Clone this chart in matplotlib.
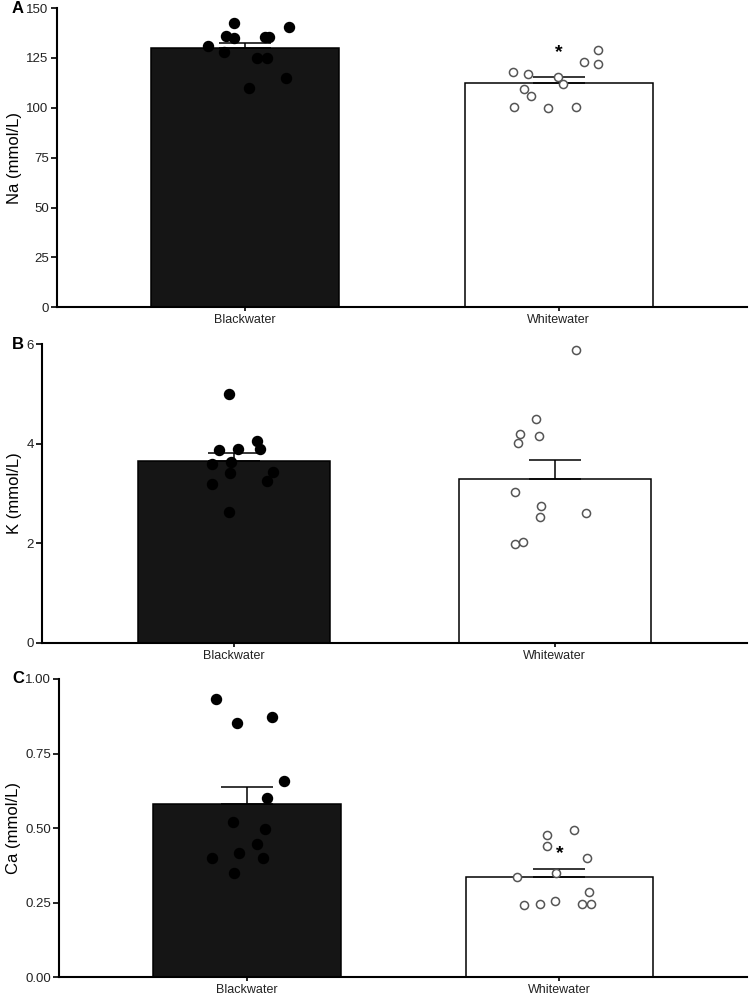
import matplotlib
matplotlib.use("Agg")
import matplotlib.pyplot as plt
import numpy as np

plt.rcParams['font.family'] = ['Liberation Sans', 'DejaVu Sans']

groups = ["Blackwater", "Whitewater"]

# panel A - Na
na_means = [130.1, 112.6]
na_sem = [2.5, 2.8]
na_black = [131.1, 127.8, 142.3, 136.0, 134.8, 109.7, 124.8, 135.6, 135.6, 124.8, 114.9, 140.3]
na_black_x = [-0.118, -0.067, -0.035, -0.061, -0.035, 0.013, 0.038, 0.064, 0.077, 0.070, 0.131, 0.141]
na_white = [117.9, 117.1, 115.4, 111.7, 109.2, 105.7, 100.3, 99.7, 100.2, 123.1, 128.8, 121.8]
na_white_x = [-0.146, -0.099, -0.004, 0.014, -0.110, -0.090, -0.143, -0.034, 0.055, 0.079, 0.125, 0.124]

# panel B - K
k_means = [3.65, 3.30]
k_sem = [0.17, 0.37]
k_black = [5.00, 3.87, 3.90, 4.05, 3.90, 3.59, 3.63, 3.42, 3.43, 3.19, 3.25, 2.62]
k_black_x = [-0.018, -0.048, 0.013, 0.071, 0.080, -0.068, -0.009, -0.012, 0.121, -0.068, 0.103, -0.016]
k_white = [5.89, 4.49, 4.20, 4.01, 4.16, 3.03, 2.74, 2.52, 2.60, 1.99, 2.02]
k_white_x = [0.067, -0.058, -0.107, -0.114, -0.049, -0.123, -0.042, -0.047, 0.097, -0.123, -0.099]

# panel C - Ca
ca_means = [0.580, 0.335]
ca_sem = [0.059, 0.028]
ca_black = [0.933, 0.851, 0.872, 0.658, 0.601, 0.522, 0.498, 0.447, 0.416, 0.400, 0.399, 0.349]
ca_black_x = [-0.098, -0.031, 0.082, 0.118, 0.066, -0.043, 0.057, 0.033, -0.025, -0.111, 0.051, -0.042]
ca_white = [0.495, 0.478, 0.439, 0.399, 0.349, 0.335, 0.287, 0.256, 0.243, 0.245, 0.247, 0.247]
ca_white_x = [0.047, -0.041, -0.039, 0.089, -0.010, -0.136, 0.096, -0.014, -0.113, -0.062, 0.073, 0.102]

fig = plt.figure(figsize=(7.5, 10.01), dpi=100)


def panel(rect, letter, means, sem, bx, by, wx, wy, ylim, yticks, yticklabels, ylabel, star=None):
    ax = fig.add_axes(rect)
    x = np.arange(len(groups))
    ax.bar(x, means, width=0.6, color=["#151515", "white"], edgecolor="black", linewidth=1.1, zorder=2)
    ax.errorbar(x, means, yerr=[[0, 0], sem], fmt="none", ecolor="black", elinewidth=1.1,
                capsize=19, capthick=1.1, zorder=3)
    ax.scatter(x[0] + np.array(bx), by, s=52, color="black", zorder=4)
    ax.scatter(x[1] + np.array(wx), wy, s=34, facecolor="white", edgecolor="#555555", linewidth=1.1, zorder=4)
    if star is not None:
        ax.text(x[1], star, "*", ha="center", va="center", fontsize=14, fontweight="bold", zorder=5)
    ax.set_xlim(-0.6, 1.6)
    ax.set_ylim(*ylim)
    ax.set_xticks(x)
    ax.set_xticklabels(groups, fontsize=9, color="#222222")
    ax.set_yticks(yticks)
    ax.set_yticklabels(yticklabels, fontsize=9.5, color="#222222")
    ax.set_ylabel(ylabel, fontsize=12, labelpad=3)
    for s in ["top", "right"]:
        ax.spines[s].set_visible(False)
    for s in ["left", "bottom"]:
        ax.spines[s].set_linewidth(1.5)
    ax.tick_params(axis="y", direction="out", length=4, width=1.2, pad=2)
    ax.tick_params(axis="x", direction="out", length=3, width=1.2, pad=2)
    fig.text(0.016, rect[1] + rect[3], letter, fontsize=12, fontweight="bold", ha="left", va="center")
    return ax


panel([0.076, 0.693, 0.920, 0.299], "A", na_means, na_sem, na_black_x, na_black, na_white_x, na_white,
      (0, 150), [0, 25, 50, 75, 100, 125, 150], ["0", "25", "50", "75", "100", "125", "150"],
      "Na (mmol/L)", star=127.6)
panel([0.056, 0.358, 0.940, 0.298], "B", k_means, k_sem, k_black_x, k_black, k_white_x, k_white,
      (0, 6), [0, 2, 4, 6], ["0", "2", "4", "6"], "K (mmol/L)")
panel([0.079, 0.0237, 0.917, 0.298], "C", ca_means, ca_sem, ca_black_x, ca_black, ca_white_x, ca_white,
      (0, 1.0), [0, 0.25, 0.5, 0.75, 1.0], ["0.00", "0.25", "0.50", "0.75", "1.00"],
      "Ca (mmol/L)", star=0.416)

fig.savefig("out.png", dpi=100)
